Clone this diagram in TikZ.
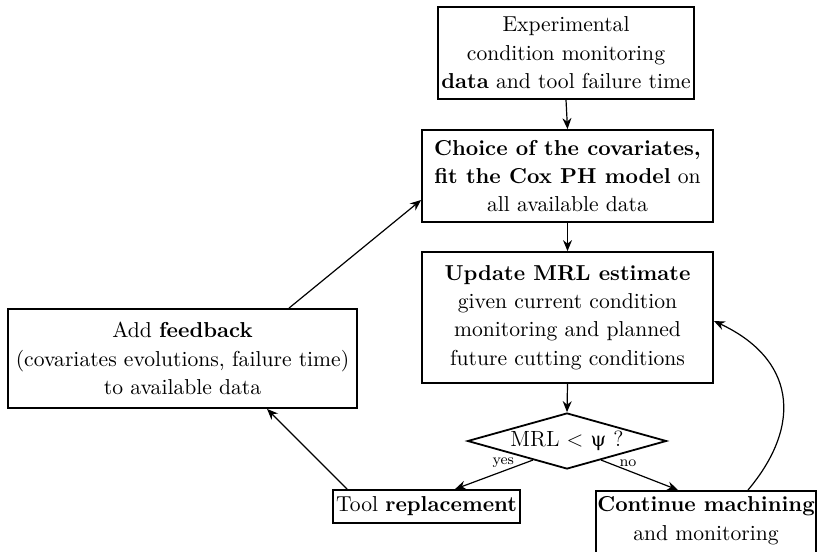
\documentclass[tikz,border=0pt]{standalone}
\usepackage{fontspec}
\newfontfamily\grk{DejaVu Serif}
\usetikzlibrary{arrows.meta,shapes.geometric,calc}
\begin{document}
\begin{tikzpicture}[x=0.5pt,y=-0.5pt,
  box/.style={draw,line width=0.9pt,align=center,inner sep=0pt,font=\fontsize{10.8}{14.2}\selectfont},
  arr/.style={-{Stealth[length=5.5pt,width=4.5pt]},line width=0.6pt},
  lbl/.style={font=\fontsize{7.5}{9}\selectfont,inner sep=1.5pt}]
\useasboundingbox (0,0) rectangle (817,551);
\clip (0,0) rectangle (817,551);

\node[box,minimum width=128pt,minimum height=46pt] (b1) at (566,53)
  {Experimental\\condition monitoring\\\textbf{data} and tool failure time};
\node[box,minimum width=145.5pt,minimum height=46pt] (b2) at (567.5,176)
  {\textbf{Choice of the covariates,}\\\textbf{fit the Cox PH model} on\\all available data};
\node[box,minimum width=145.5pt,minimum height=65.5pt] (b3) at (567.5,317.5)
  {\textbf{Update MRL estimate}\\given current condition\\monitoring and planned\\future cutting conditions};
\node[draw,line width=0.9pt,diamond,aspect=3.55,inner sep=0pt,minimum width=99.5pt,minimum height=28pt,
  font=\fontsize{11}{14}\selectfont] (d) at (567,441) {MRL < {\grk\fontsize{10}{14}\selectfont ψ} ?};
\node[box,minimum width=93.5pt,minimum height=16.5pt] (tool) at (426.5,506.5)
  {Tool \textbf{replacement}};
\node[box,anchor=north,minimum width=110pt,text depth=40pt,inner ysep=3pt] (cont) at (706,490)
  {\textbf{Continue machining}\\and monitoring};
\node[box,minimum width=174.5pt,minimum height=49.5pt] (fb) at (182.5,358.5)
  {Add \textbf{feedback}\\(covariates evolutions, failure time)\\to available data};

\draw[arr] (b1.south) -- (b2.north);
\draw[arr] (b2.south) -- (b3.north);
\draw[arr] (b3.south) -- (d.north);
\draw[arr] ($(d.south)!0.34!(d.west)$) -- node[lbl,pos=0.38,above]{yes} ($(tool.north)+(28.5,0)$);
\draw[arr] ($(d.south)!0.34!(d.east)$) -- node[lbl,pos=0.35,above]{no} ($(cont.north)+(-28,0)$);
\draw[arr] ($(cont.north)+(42,0)$) to[out=50,in=-25,looseness=1.3] ($(b3.east)+(0,3.5)$);
\draw[arr] ($(tool.north west)+(15,0)$) -- ($(fb.south)+(84.5,0)$);
\draw[arr] ($(fb.north)+(106.5,0)$) -- ($(b2.west)+(0,24)$);
\end{tikzpicture}
\end{document}
